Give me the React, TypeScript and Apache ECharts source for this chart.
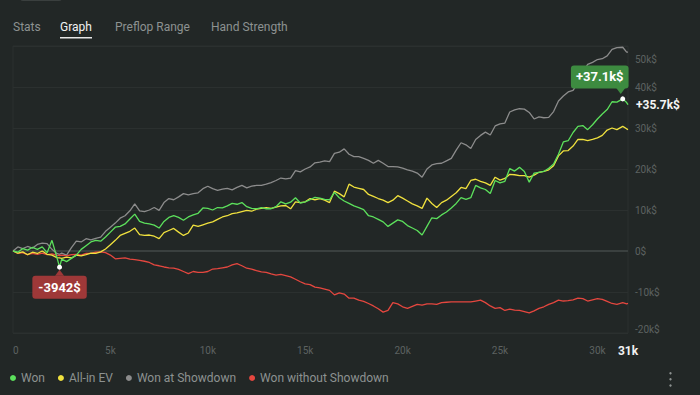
import React, { useEffect, useRef } from "react";
import * as echarts from "echarts";

// hands played, in thousands
const hands = [
  0, 0.25, 0.5, 0.75, 1, 1.25, 1.5, 1.75, 2, 2.25, 2.39, 2.5, 2.75, 3, 3.25, 3.5, 3.75, 4, 4.25, 4.5, 4.75,
  5, 5.25, 5.5, 5.75, 6, 6.25, 6.5, 6.75, 7, 7.25, 7.5, 7.75, 8, 8.25, 8.5, 8.75, 9, 9.25, 9.5, 9.75,
  10, 10.25, 10.5, 10.75, 11, 11.25, 11.5, 11.75, 12, 12.25, 12.5, 12.75, 13, 13.25, 13.5, 13.75, 14, 14.25, 14.5, 14.75,
  15, 15.25, 15.5, 15.75, 16, 16.25, 16.5, 16.75, 17, 17.25, 17.5, 17.75, 18, 18.25, 18.5, 18.75, 19, 19.25, 19.5, 19.75,
  20, 20.25, 20.5, 20.75, 21, 21.25, 21.5, 21.75, 22, 22.25, 22.5, 22.75, 23, 23.25, 23.5, 23.75, 24, 24.25, 24.5, 24.75,
  25, 25.25, 25.5, 25.75, 26, 26.25, 26.5, 26.75, 27, 27.25, 27.5, 27.75, 28, 28.25, 28.5, 28.75, 29, 29.25, 29.5, 29.75,
  30, 30.25, 30.5, 30.75, 31, 31.3, 31.5, 31.57,
];

// cumulative results, in thousands of $
const won = [
  0, -0.3, 0.6, 0.2, 0.9, 0.4, 1.0, -0.4, 2.6, -1.5, -3.942, -2.0, -2.6, -1.8, -1.0, 0.4, 1.3, 2.2, 2.6, 2.4, 3.4,
  4.6, 5.8, 6.0, 6.6, 7.8, 9.0, 7.2, 6.8, 6.6, 6.3, 5.6, 7.2, 8.2, 8.6, 8.2, 7.5, 8.3, 8.8, 9.2, 10.5,
  10.4, 10.0, 10.6, 10.5, 11.0, 11.6, 11.4, 11.8, 10.8, 10.4, 10.3, 10.6, 10.3, 10.3, 10.8, 12.0, 11.5, 11.9, 13.0, 11.7,
  12.0, 12.5, 13.1, 12.9, 12.6, 12.5, 14.3, 13.0, 12.2, 11.6, 11.0, 10.6, 10.1, 8.6, 8.3, 7.7, 7.1, 6.0, 6.8, 7.6,
  7.2, 6.2, 5.6, 5.0, 3.9, 6.0, 8.1, 7.9, 8.8, 9.5, 10.5, 11.6, 13.0, 12.6, 13.0, 16.0, 15.4, 15.0, 14.0, 17.2,
  16.6, 17.0, 20.1, 19.5, 20.4, 19.4, 16.8, 19.0, 19.2, 19.4, 20.2, 21.2, 23.6, 26.6, 26.9, 28.9, 30.4, 30.6, 29.6, 30.8,
  32.2, 33.4, 34.5, 36.4, 36.3, 37.1, 36.2, 35.7,
];

const allInEv = [
  0, -0.5, -0.2, -0.9, -0.3, -0.6, 0.0, -0.8, -1.0, -1.6, -1.7, -1.8, -1.5, -1.7, -1.0, -1.2, -0.9, -0.5, -0.6, -0.2, 0.5,
  1.5, 2.6, 3.8, 4.3, 4.8, 5.6, 4.0, 3.8, 3.9, 3.6, 3.0, 4.5, 5.0, 5.5, 4.6, 3.8, 4.4, 6.3, 6.0, 6.4,
  6.8, 7.1, 7.7, 8.3, 8.6, 9.1, 9.3, 9.6, 9.9, 9.7, 10.2, 10.4, 10.6, 10.4, 10.7, 11.0, 11.1, 10.3, 12.0, 11.8,
  12.0, 12.8, 12.5, 12.8, 12.4, 11.8, 14.6, 14.0, 13.2, 16.3, 15.6, 15.3, 15.0, 13.8, 13.3, 12.8, 12.4, 11.8, 12.4, 13.5,
  12.9, 12.2, 11.5, 11.0, 10.4, 12.9, 11.6, 10.6, 11.8, 12.4, 13.3, 14.2, 15.5, 15.2, 17.2, 17.5, 17.0, 16.6, 16.0, 18.0,
  17.3, 17.7, 18.7, 18.6, 18.4, 18.4, 18.0, 18.5, 19.2, 19.4, 19.8, 20.8, 23.2, 24.4, 24.5, 25.6, 27.2, 27.2, 26.9, 27.2,
  27.6, 28.2, 29.5, 30.0, 29.6, 30.4, 29.8, 29.6,
];

const wonAtShowdown = [
  0, 1.0, 0.6, 1.1, 0.7, 1.6, 1.9, 1.8, 0.4, -0.6, -0.8, -0.5, -1.0, 0.8, 2.4, 2.2, 3.0, 2.7, 3.1, 3.4, 4.8,
  5.8, 6.8, 8.0, 8.6, 9.8, 11.5, 9.8, 9.6, 10.0, 10.6, 9.9, 11.8, 12.8, 12.5, 13.2, 14.0, 13.7, 14.0, 14.2, 15.2,
  15.8, 15.2, 14.8, 15.1, 15.3, 14.9, 15.5, 16.0, 15.4, 15.8, 16.0, 16.0, 16.3, 16.7, 17.2, 17.8, 17.6, 17.8, 19.6, 19.3,
  20.0, 20.5, 21.5, 21.7, 22.0, 21.8, 23.8, 24.1, 24.9, 23.6, 23.0, 23.0, 22.6, 22.1, 21.4, 22.1, 21.4, 20.6, 20.6, 20.5,
  20.2, 19.8, 19.5, 19.0, 18.0, 20.0, 21.0, 21.3, 21.4, 22.0, 22.6, 24.6, 26.4, 25.9, 25.0, 27.2, 28.2, 29.0, 28.3, 30.5,
  31.0, 31.2, 33.9, 34.4, 34.7, 34.6, 33.8, 32.2, 32.7, 32.5, 32.6, 34.0, 36.6, 37.8, 38.8, 39.2, 41.0, 43.6, 45.5, 46.0,
  46.7, 46.9, 47.6, 49.2, 49.6, 49.7, 48.5, 48.5,
];

const wonWithoutShowdown = [
  0, -0.6, -0.4, -0.9, -0.6, -0.8, -0.5, -0.9, -0.7, -1.0, -1.1, -1.0, -1.2, -0.9, -0.8, -1.0, -0.6, -0.6, -0.3, -0.2, -0.4,
  -1.0, -1.9, -1.8, -1.7, -2.0, -2.1, -2.3, -2.5, -2.8, -3.4, -3.6, -3.9, -4.1, -4.2, -4.5, -5.0, -5.5, -5.0, -5.2, -5.2,
  -5.0, -4.4, -4.3, -4.1, -3.9, -3.4, -3.1, -3.6, -4.2, -4.4, -4.8, -5.1, -5.2, -5.6, -5.9, -5.7, -6.0, -6.3, -6.9, -7.5,
  -8.0, -8.2, -8.8, -9.0, -9.3, -9.6, -10.7, -10.2, -10.5, -11.5, -11.5, -12.0, -12.3, -12.8, -13.4, -14.1, -14.9, -14.5, -12.6, -12.9,
  -13.6, -14.0, -13.5, -13.0, -13.2, -12.9, -12.9, -13.0, -12.6, -12.5, -12.4, -12.4, -12.4, -12.4, -12.4, -12.2, -12.0, -12.6, -13.4, -14.0,
  -13.8, -14.5, -14.2, -14.4, -14.5, -14.8, -15.1, -14.6, -14.0, -13.6, -13.0, -12.6, -12.0, -12.2, -12.1, -11.9, -11.5, -11.6, -12.2, -11.9,
  -11.6, -11.8, -12.3, -12.8, -13.0, -12.6, -12.9, -12.8,
];

const seriesNames = ["Won", "All-in EV", "Won at Showdown", "Won without Showdown"];
const seriesColors = ["#5ce05c", "#f0e13e", "#8c8c8c", "#e5473f"];
const tabs = ["Stats", "Graph", "Preflop Range", "Hand Strength"];
const activeTab = "Graph";
const yTicksK = [-20, -10, 0, 10, 20, 30, 40, 50];
const xStepK = 5;

const FONT = "Roboto, 'Noto Sans', sans-serif";
const BG = "#222726";

export default function App() {
  const ref = useRef<HTMLDivElement>(null);

  useEffect(() => {
    if (!ref.current) return;
    const chart = echarts.init(ref.current, undefined, { renderer: "svg" });

    const toPairs = (vals: number[]) => hands.map((h, i) => [h * 1000, vals[i] * 1000]);
    const totalHands = hands[hands.length - 1] * 1000;

    let maxI = 0;
    let minI = 0;
    won.forEach((v, i) => {
      if (v > won[maxI]) maxI = i;
      if (v < won[minI]) minI = i;
    });
    const maxCoord = [hands[maxI] * 1000, won[maxI] * 1000];
    const minCoord = [hands[minI] * 1000, won[minI] * 1000];
    const lastWon = won[won.length - 1];
    const greenBox = "#3d8b40";
    const redBox = "#9e3838";

    const tabX = [13, 60, 115, 211];
    const graphic: any[] = [
      { type: "rect", shape: { x: 20, y: -10, width: 42, height: 11, r: 3 }, style: { fill: "#3a3f3e" } },
      ...tabs.map((t, i) => ({
        type: "text",
        x: tabX[i],
        y: 27,
        style: {
          text: t,
          fill: t === activeTab ? "#f2f2f2" : "#8d9291",
          font: `12px ${FONT}`,
          verticalAlign: "middle",
        },
      })),
      { type: "rect", shape: { x: 60, y: 37, width: 32, height: 1.5 }, style: { fill: "#e6e6e6" } },
      { type: "circle", shape: { cx: 670.5, cy: 373.3, r: 1.2 }, style: { fill: "#8d9291" } },
      { type: "circle", shape: { cx: 670.5, cy: 379.3, r: 1.2 }, style: { fill: "#8d9291" } },
      { type: "circle", shape: { cx: 670.5, cy: 385.5, r: 1.2 }, style: { fill: "#8d9291" } },
    ];

    const baseLine = (name: string, vals: number[], color: string, z: number) => ({
      type: "line",
      name,
      data: toPairs(vals),
      symbol: "none",
      showSymbol: false,
      silent: true,
      z,
      lineStyle: { width: 1.3, color },
      itemStyle: { color },
    });

    const wonSeries: any = {
      ...baseLine(seriesNames[0], won, seriesColors[0], 4),
      endLabel: {
        show: true,
        formatter: `+${lastWon.toFixed(1)}k$`,
        color: "#f4f4f4",
        fontWeight: "bold",
        fontSize: 12,
        fontFamily: FONT,
        distance: 8,
      },
      markPoint: {
        silent: true,
        animation: false,
        data: [
          {
            coord: maxCoord,
            symbol: "triangle",
            symbolRotate: 180,
            symbolSize: [9, 6],
            symbolOffset: [-2, -8],
            itemStyle: { color: greenBox },
            label: { show: false },
          },
          {
            coord: minCoord,
            symbol: "triangle",
            symbolSize: [9, 6],
            symbolOffset: [0, 5.5],
            itemStyle: { color: redBox },
            label: { show: false },
          },
          {
            coord: maxCoord,
            symbol: "circle",
            symbolSize: 5,
            itemStyle: { color: "#ffffff" },
            label: {
              show: true,
              position: "inside",
              offset: [-23, -22],
              formatter: `+${won[maxI].toFixed(1)}k$`,
              backgroundColor: greenBox,
              color: "#ffffff",
              fontWeight: "bold",
              fontSize: 13,
              fontFamily: FONT,
              lineHeight: 15,
              padding: [4, 5],
              borderRadius: 3,
            },
          },
          {
            coord: minCoord,
            symbol: "circle",
            symbolSize: 5,
            itemStyle: { color: "#ffffff" },
            label: {
              show: true,
              position: "inside",
              offset: [0, 20],
              formatter: `${Math.round(won[minI] * 1000)}$`,
              backgroundColor: redBox,
              color: "#ffffff",
              fontWeight: "bold",
              fontSize: 13,
              fontFamily: FONT,
              lineHeight: 15,
              padding: [4, 6],
              borderRadius: 3,
            },
          },
        ],
      },
    };

    const yMin = yTicksK[0] * 1000;
    const yMax = yTicksK[yTicksK.length - 1] * 1000;

    chart.setOption({
      animation: false,
      backgroundColor: BG,
      textStyle: { fontFamily: FONT },
      graphic,
      grid: {
        left: 13,
        right: 72,
        top: 46,
        bottom: 62,
        show: true,
        borderColor: "#2b302f",
        borderWidth: 1,
        containLabel: false,
      },
      legend: {
        data: seriesNames,
        left: 10,
        top: 372,
        padding: 0,
        itemGap: 13,
        itemWidth: 6,
        itemHeight: 6,
        icon: "circle",
        selectedMode: false,
        textStyle: { color: "#8d9291", fontSize: 12, fontFamily: FONT },
      },
      xAxis: {
        type: "value",
        min: 0,
        max: totalHands,
        interval: xStepK * 1000,
        axisLine: { show: false },
        axisTick: { show: false },
        splitLine: { show: false },
        axisLabel: {
          color: "#5d6261",
          fontSize: 10,
          fontFamily: FONT,
          margin: 12,
          showMaxLabel: true,
          alignMinLabel: "left",
          formatter: (v: number) => {
            if (v >= totalHands) return `{last|${Math.floor(v / 1000)}k}`;
            return v === 0 ? "0" : `${v / 1000}k`;
          },
          rich: {
            last: { color: "#f2f2f2", fontWeight: "bold", fontSize: 12, fontFamily: FONT },
          },
        },
      },
      yAxis: {
        type: "value",
        position: "right",
        min: yMin,
        max: yMax,
        interval: 10000,
        axisLine: { show: false },
        axisTick: { show: false },
        splitLine: { show: true, lineStyle: { color: "#2b302f", width: 1 } },
        axisLabel: {
          color: "#5d6261",
          fontSize: 10,
          fontFamily: FONT,
          margin: 7,
          formatter: (v: number) => {
            const t = v === 0 ? "0$" : `${v / 1000}k$`;
            if (v === yMax) return `{top|${t}}`;
            if (v === yMin) return `{bot|${t}}`;
            return t;
          },
          rich: {
            top: { padding: [26, 0, 0, 0], color: "#5d6261", fontSize: 10, fontFamily: FONT },
            bot: { padding: [0, 0, 8, 0], color: "#5d6261", fontSize: 10, fontFamily: FONT },
          },
        },
      },
      series: [
        {
          type: "line",
          name: "zero",
          data: [
            [0, 0],
            [totalHands, 0],
          ],
          symbol: "none",
          silent: true,
          z: 1,
          lineStyle: { color: "#3a403f", width: 2 },
          itemStyle: { color: "#3a403f" },
        },
        wonSeries,
        baseLine(seriesNames[1], allInEv, seriesColors[1], 3),
        baseLine(seriesNames[2], wonAtShowdown, seriesColors[2], 2),
        baseLine(seriesNames[3], wonWithoutShowdown, seriesColors[3], 2),
      ],
    });

    return () => chart.dispose();
  }, []);

  return (
    <div style={{ position: "absolute", left: 0, top: 0, width: 700, height: 395, background: BG }}>
      <div ref={ref} style={{ width: 700, height: 395 }} />
    </div>
  );
}
